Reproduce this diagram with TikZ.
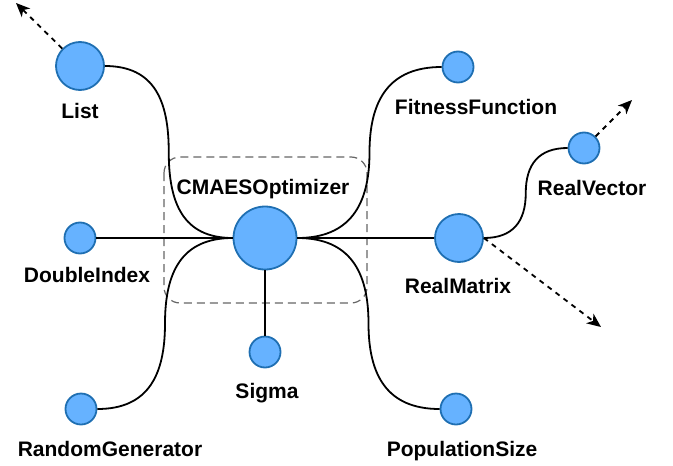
\documentclass[tikz,border=0pt]{standalone}
\usepackage{fontspec}
\setmainfont{Liberation Sans}
\usetikzlibrary{arrows.meta,calc}
\definecolor{nodefill}{HTML}{66B2FF}
\definecolor{nodeline}{HTML}{1F6FB2}
\begin{document}
\begin{tikzpicture}
  [x=0.5pt,y=-0.5pt,every node/.style={inner sep=0pt},
   ball/.style={circle,draw=nodeline,fill=nodefill,line width=0.9pt},
   bigball/.style={ball,minimum size=24pt},
   hubball/.style={ball,minimum size=31.5pt},
   smallball/.style={ball,minimum size=15.5pt},
   lbl/.style={anchor=base,font=\bfseries\fontsize{10.5}{12}\selectfont},
   link/.style={line width=0.9pt,black,looseness=1.2},
   dasharrow/.style={line width=0.9pt,black,dash pattern=on 2.5pt off 2.5pt,
     -{Stealth[length=7pt,width=6pt,inset=2pt]}},
   groupbox/.style={draw=black!60,line width=0.6pt,dash pattern=on 4pt off 2.5pt,rounded corners=8pt}]
\useasboundingbox (0,0) rectangle (673,465);

\draw[groupbox] (164,157) rectangle (367,303);

\node (opt)[hubball] at (265,238) {};
\node (list)[bigball] at (80,66) {};
\node (mat)[bigball] at (459,238) {};
\node (fit)[smallball] at (458,67) {};
\node (vec)[smallball] at (584,148) {};
\node (dbl)[smallball] at (80,238) {};
\node (sig)[smallball] at (265,352) {};
\node (rng)[smallball] at (81,409) {};
\node (pop)[smallball] at (456,409) {};

\node (optLbl)[lbl] at (263,194) {CMAESOptimizer};
\node (listLbl)[lbl] at (80,119) {List};
\node (fitLbl)[lbl] at (476,114) {FitnessFunction};
\node (vecLbl)[lbl] at (592,195) {RealVector};
\node (dblLbl)[lbl] at (87,282) {DoubleIndex};
\node (matLbl)[lbl] at (458,293) {RealMatrix};
\node (sigLbl)[lbl] at (267,398) {Sigma};
\node (rngLbl)[lbl] at (110,456) {RandomGenerator};
\node (popLbl)[lbl] at (462,456) {PopulationSize};

% straight links
\draw[link] (dbl) -- (opt);
\draw[link] (opt) -- (mat);
\draw[link] (opt) -- (sig);

% curved links, bent halfway
\coordinate (mList) at ($(list.east)!0.5!(opt.west)$);
\coordinate (mRng) at ($(rng.east)!0.5!(opt.west)$);
\coordinate (mFit) at ($(fit.west)!0.5!(opt.east)$);
\coordinate (mPop) at ($(pop.west)!0.5!(opt.east)$);
\coordinate (mVec) at ($(mat.east)!0.5!(vec.west)$);
\draw[link] (list.east) to[out=0,in=90] (mList) to[out=-90,in=180] (opt.west);
\draw[link] (rng.east) to[out=0,in=-90] (mRng) to[out=90,in=180] (opt.west);
\draw[link] (fit.west) to[out=180,in=90] (mFit) to[out=-90,in=0] (opt.east);
\draw[link] (pop.west) to[out=180,in=-90] (mPop) to[out=90,in=0] (opt.east);
\draw[link] (mat.east) to[out=0,in=-90] (mVec) to[out=90,in=180] (vec.west);

% loose ends
\coordinate (listTip) at (16,3);
\coordinate (vecTip) at (632,100);
\coordinate (matTip) at (601,327);
\draw[dasharrow] (list) -- (listTip);
\draw[dasharrow] (vec) -- (vecTip);
\draw[dasharrow] (mat.east) -- (matTip);
\end{tikzpicture}
\end{document}
